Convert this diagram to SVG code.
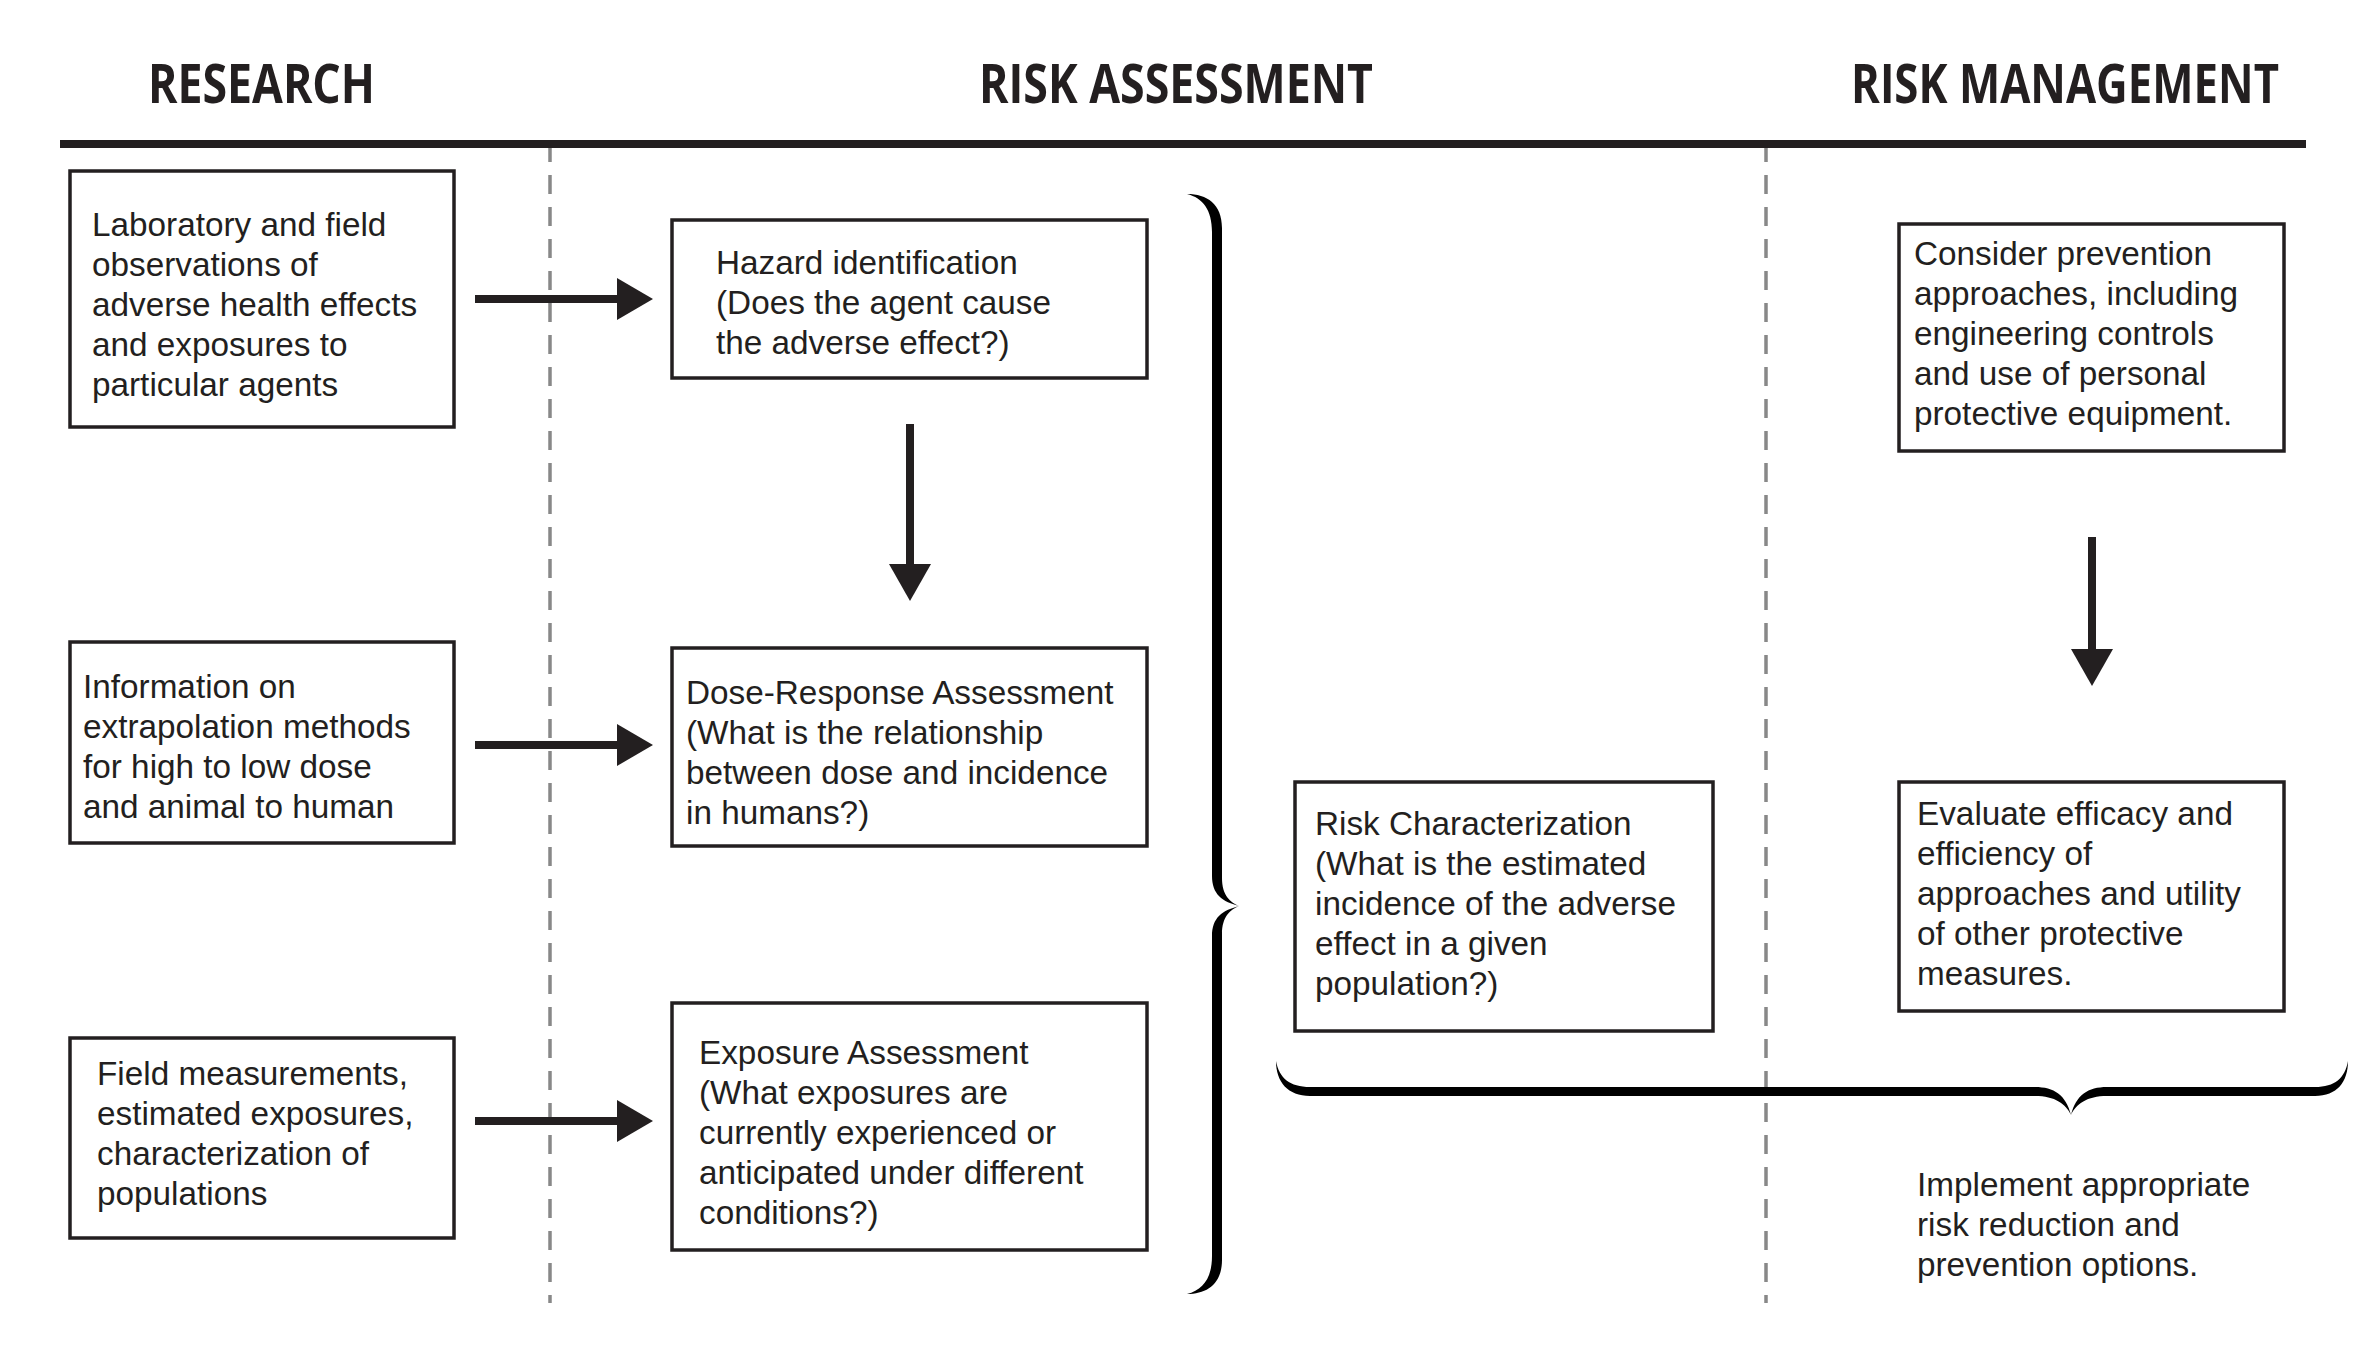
<svg xmlns="http://www.w3.org/2000/svg" width="2373" height="1372" viewBox="0 0 2373 1372">
<style>
.hdr{font-family:"Open Sans","Liberation Sans",sans-serif;font-weight:bold;font-size:53px;fill:#231f20}
.t{font-family:"Liberation Sans",Arial,sans-serif;font-size:33.3px;fill:#231f20}
.box{fill:#ffffff;stroke:#231f20;stroke-width:3.5}
.dash{stroke:#888888;stroke-width:3.5;stroke-dasharray:19 13;fill:none}
.shaft{stroke:#231f20;stroke-width:8;fill:none}
.head{fill:#231f20}
.brace{fill:#000000}
</style>
<rect width="2373" height="1372" fill="#ffffff"/>
<g id="headers">
<text class="hdr" x="148" y="103" textLength="227" lengthAdjust="spacingAndGlyphs">RESEARCH</text>
<text class="hdr" x="979" y="103" textLength="394" lengthAdjust="spacingAndGlyphs">RISK ASSESSMENT</text>
<text class="hdr" x="1851" y="103" textLength="428" lengthAdjust="spacingAndGlyphs">RISK MANAGEMENT</text>
</g>
<g id="dividers">
<line x1="550" y1="143" x2="550" y2="1303" class="dash"/>
<line x1="1766" y1="143" x2="1766" y2="1303" class="dash"/>
<rect x="60" y="140" width="2246" height="8" fill="#231f20"/>
</g>
<g id="connectors">
<line x1="475" y1="299" x2="620" y2="299" class="shaft"/>
<polygon class="head" points="617,278 653,299 617,320"/>
<line x1="475" y1="745" x2="620" y2="745" class="shaft"/>
<polygon class="head" points="617,724 653,745 617,766"/>
<line x1="475" y1="1121" x2="620" y2="1121" class="shaft"/>
<polygon class="head" points="617,1100 653,1121 617,1142"/>
<line x1="910" y1="424" x2="910" y2="567" class="shaft"/>
<polygon class="head" points="889,564 931,564 910,601"/>
<line x1="2092" y1="537" x2="2092" y2="652" class="shaft"/>
<polygon class="head" points="2071,649 2113,649 2092,686"/>
<path class="brace" d="M1187,194 C1207,194 1222,204 1222,228 L1222,878 C1222,895 1230,903 1240,906 C1230,909 1222,917 1222,934 L1222,1260 C1222,1284 1207,1294 1187,1294 C1203,1290 1212,1278 1212,1256 L1212,936 C1212,918 1222,910 1240,906 C1222,902 1212,894 1212,876 L1212,232 C1212,210 1203,198 1187,194 Z"/>
<path class="brace" d="M1276,1061 C1276,1082 1288,1096 1310,1096 L2035,1096 C2055,1096 2066,1104 2071,1115 C2076,1104 2087,1096 2107,1096 L2315,1096 C2337,1096 2348,1082 2348,1061 C2345,1078 2335,1087 2315,1087 L2107,1087 C2088,1087 2076,1095 2071,1115 C2066,1095 2054,1087 2035,1087 L1310,1087 C1290,1087 1279,1078 1276,1061 Z"/>
</g>
<g id="lab">
<rect class="box" x="70" y="171" width="384" height="256"/>
<text class="t" x="92" y="236">Laboratory and field</text>
<text class="t" x="92" y="276">observations of</text>
<text class="t" x="92" y="316">adverse health effects</text>
<text class="t" x="92" y="356">and exposures to</text>
<text class="t" x="92" y="396">particular agents</text>
</g>
<g id="info">
<rect class="box" x="70" y="642" width="384" height="201"/>
<text class="t" x="83" y="698">Information on</text>
<text class="t" x="83" y="738">extrapolation methods</text>
<text class="t" x="83" y="778">for high to low dose</text>
<text class="t" x="83" y="818">and animal to human</text>
</g>
<g id="field">
<rect class="box" x="70" y="1038" width="384" height="200"/>
<text class="t" x="97" y="1085">Field measurements,</text>
<text class="t" x="97" y="1125">estimated exposures,</text>
<text class="t" x="97" y="1165">characterization of</text>
<text class="t" x="97" y="1205">populations</text>
</g>
<g id="hazard">
<rect class="box" x="672" y="220" width="475" height="158"/>
<text class="t" x="716" y="274">Hazard identification</text>
<text class="t" x="716" y="314">(Does the agent cause</text>
<text class="t" x="716" y="354">the adverse effect?)</text>
</g>
<g id="dose">
<rect class="box" x="672" y="648" width="475" height="198"/>
<text class="t" x="686" y="704">Dose-Response Assessment</text>
<text class="t" x="686" y="744">(What is the relationship</text>
<text class="t" x="686" y="784">between dose and incidence</text>
<text class="t" x="686" y="824">in humans?)</text>
</g>
<g id="exposure">
<rect class="box" x="672" y="1003" width="475" height="247"/>
<text class="t" x="699" y="1064">Exposure Assessment</text>
<text class="t" x="699" y="1104">(What exposures are</text>
<text class="t" x="699" y="1144">currently experienced or</text>
<text class="t" x="699" y="1184">anticipated under different</text>
<text class="t" x="699" y="1224">conditions?)</text>
</g>
<g id="riskchar">
<rect class="box" x="1295" y="782" width="418" height="249"/>
<text class="t" x="1315" y="835">Risk Characterization</text>
<text class="t" x="1315" y="875">(What is the estimated</text>
<text class="t" x="1315" y="915">incidence of the adverse</text>
<text class="t" x="1315" y="955">effect in a given</text>
<text class="t" x="1315" y="995">population?)</text>
</g>
<g id="consider">
<rect class="box" x="1899" y="224" width="385" height="227"/>
<text class="t" x="1914" y="265">Consider prevention</text>
<text class="t" x="1914" y="305">approaches, including</text>
<text class="t" x="1914" y="345">engineering controls</text>
<text class="t" x="1914" y="385">and use of personal</text>
<text class="t" x="1914" y="425">protective equipment.</text>
</g>
<g id="evaluate">
<rect class="box" x="1899" y="782" width="385" height="229"/>
<text class="t" x="1917" y="825">Evaluate efficacy and</text>
<text class="t" x="1917" y="865">efficiency of</text>
<text class="t" x="1917" y="905">approaches and utility</text>
<text class="t" x="1917" y="945">of other protective</text>
<text class="t" x="1917" y="985">measures.</text>
</g>
<g id="implement">
<text class="t" x="1917" y="1196">Implement appropriate</text>
<text class="t" x="1917" y="1236">risk reduction and</text>
<text class="t" x="1917" y="1276">prevention options.</text>
</g>
</svg>
